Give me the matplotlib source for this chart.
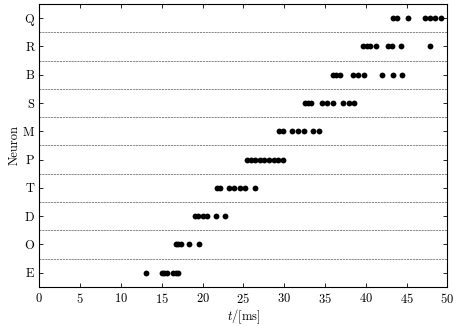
import matplotlib
matplotlib.use("Agg")
import matplotlib.pyplot as plt

# neuronas de abajo hacia arriba
neuronas = ["E", "O", "D", "T", "P", "M", "S", "B", "R", "Q"]

# tiempos de disparo en ms
spikes_E = [13.1, 15.0, 15.3, 15.6, 16.4, 16.7, 17.0]
spikes_O = [16.7, 17.0, 17.4, 18.4, 19.6]
spikes_D = [19.1, 19.5, 20.0, 20.5, 21.7, 22.8]
spikes_T = [21.8, 22.1, 23.2, 23.9, 24.6, 25.2, 26.4]
spikes_P = [25.5, 25.9, 26.4, 27.0, 27.5, 28.2, 28.8, 29.3, 29.9]
spikes_M = [29.4, 29.9, 31.0, 31.7, 32.4, 33.5, 34.3]
spikes_S = [32.5, 32.9, 33.3, 34.6, 35.3, 36.0, 37.2, 37.9, 38.6]
spikes_B = [36.0, 36.4, 36.8, 38.4, 39.1, 39.8, 42.0, 43.3, 44.5]
spikes_R = [39.7, 40.1, 40.5, 41.2, 42.7, 43.2, 44.3, 47.9]
spikes_Q = [43.4, 43.8, 45.2, 47.3, 47.9, 48.5, 49.2]

todos = [spikes_E, spikes_O, spikes_D, spikes_T, spikes_P,
         spikes_M, spikes_S, spikes_B, spikes_R, spikes_Q]

plt.rcParams["font.family"] = "cmr10"
plt.rcParams["mathtext.fontset"] = "cm"
plt.rcParams["axes.formatter.use_mathtext"] = True

fig = plt.figure(figsize=(4.54, 3.26), dpi=100)
ax = fig.add_axes([0.0866, 0.120, 0.8987, 0.868])

for i, tiempos in enumerate(todos):
    ax.plot(tiempos, [i] * len(tiempos), "o", color="black", markersize=4.2,
            markeredgewidth=0)

# lineas punteadas entre filas
for i in range(len(neuronas) - 1):
    ax.axhline(i + 0.5, color="0.45", linewidth=0.6, linestyle=(0, (2.5, 1)))

ax.set_xlim(0, 50)
ax.set_ylim(-0.5, len(neuronas) - 0.5)
ax.set_xticks(range(0, 51, 5))
ax.set_yticks(range(len(neuronas)))
ax.set_yticklabels(neuronas)
ax.tick_params(direction="in", top=True, right=True, labelsize=9, length=3,
               width=0.6)
for s in ax.spines.values():
    s.set_linewidth(0.8)

ax.set_xlabel(r"$t/[\mathrm{ms}]$", fontsize=9, labelpad=1)
ax.set_ylabel("Neuron", fontsize=9, labelpad=2)

fig.savefig("out.png", dpi=100)
